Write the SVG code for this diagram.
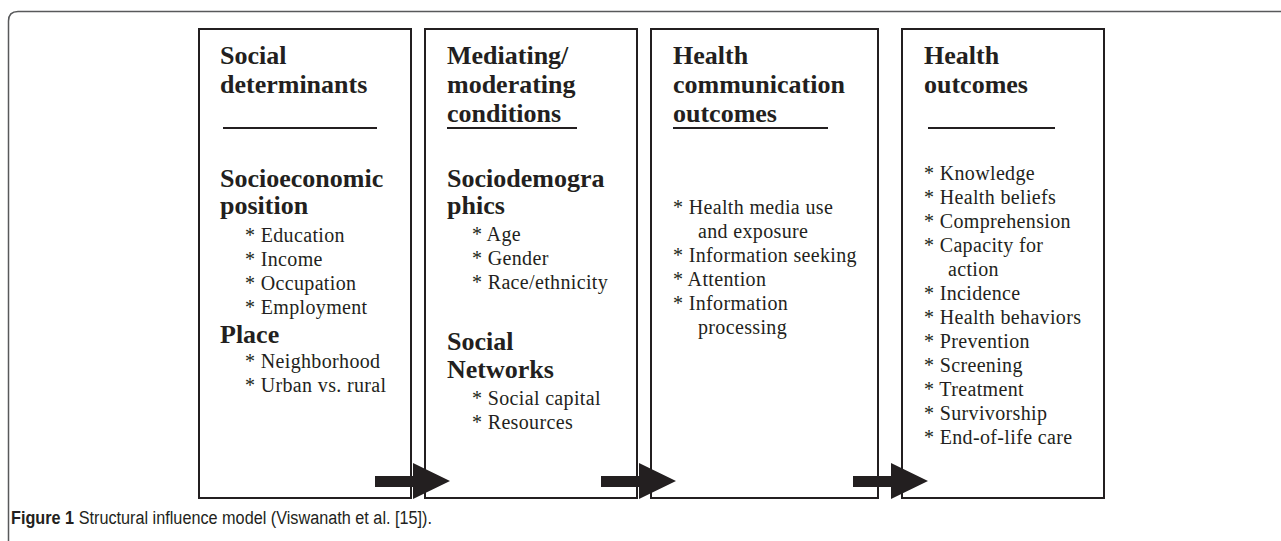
<svg xmlns="http://www.w3.org/2000/svg" width="1281" height="541" viewBox="0 0 1281 541">
<style>
.box{fill:#fff;stroke:#231f20;stroke-width:2}
.t{font-family:"Liberation Serif","Times New Roman",serif;font-weight:bold;font-size:26px;fill:#231f20}
.i{font-family:"Liberation Serif","Times New Roman",serif;font-size:20px;letter-spacing:0.35px;fill:#231f20}
.rule{stroke:#231f20;stroke-width:2}
.arrow{fill:#231f20}
.cap{font-family:"Liberation Sans",Arial,sans-serif;font-size:18px;fill:#231f20}
</style>
<rect width="1281" height="541" fill="#fff"/>
<path d="M8.5 541 V21 Q8.5 11.5 18 11.5 H1281" fill="none" stroke="#58595b" stroke-width="1.5"/>

<g id="social-determinants">
<rect class="box" x="199" y="29" width="212" height="469"/>
<text class="t" x="220" y="64">Social</text>
<text class="t" x="220" y="93">determinants</text>
<line class="rule" x1="223" y1="128" x2="377" y2="128"/>
<text class="t" x="220" y="187">Socioeconomic</text>
<text class="t" x="220" y="214">position</text>
<text class="i" x="245" y="242">* Education</text>
<text class="i" x="245" y="266">* Income</text>
<text class="i" x="245" y="290">* Occupation</text>
<text class="i" x="245" y="314">* Employment</text>
<text class="t" x="220" y="343">Place</text>
<text class="i" x="245" y="368">* Neighborhood</text>
<text class="i" x="245" y="392">* Urban vs. rural</text>
</g>

<g id="mediating-conditions">
<rect class="box" x="425" y="29" width="212" height="469"/>
<text class="t" x="447" y="64">Mediating/</text>
<text class="t" x="447" y="93">moderating</text>
<text class="t" x="447" y="122">conditions</text>
<line class="rule" x1="447" y1="128" x2="577" y2="128"/>
<text class="t" x="447" y="187">Sociodemogra</text>
<text class="t" x="447" y="214">phics</text>
<text class="i" x="472" y="241">* Age</text>
<text class="i" x="472" y="265">* Gender</text>
<text class="i" x="472" y="289">* Race/ethnicity</text>
<text class="t" x="447" y="350">Social</text>
<text class="t" x="447" y="378">Networks</text>
<text class="i" x="472" y="405">* Social capital</text>
<text class="i" x="472" y="429">* Resources</text>
</g>

<g id="health-communication-outcomes">
<rect class="box" x="651" y="29" width="227" height="469"/>
<text class="t" x="673" y="64">Health</text>
<text class="t" x="673" y="93">communication</text>
<text class="t" x="673" y="122">outcomes</text>
<line class="rule" x1="673" y1="128" x2="828" y2="128"/>
<text class="i" x="673" y="214">* Health media use</text>
<text class="i" x="698" y="238">and exposure</text>
<text class="i" x="673" y="262">* Information seeking</text>
<text class="i" x="673" y="286">* Attention</text>
<text class="i" x="673" y="310">* Information</text>
<text class="i" x="698" y="334">processing</text>
</g>

<g id="health-outcomes">
<rect class="box" x="902" y="29" width="202" height="469"/>
<text class="t" x="924" y="64">Health</text>
<text class="t" x="924" y="93">outcomes</text>
<line class="rule" x1="928" y1="128" x2="1055" y2="128"/>
<text class="i" x="924" y="180">* Knowledge</text>
<text class="i" x="924" y="204">* Health beliefs</text>
<text class="i" x="924" y="228">* Comprehension</text>
<text class="i" x="924" y="252">* Capacity for</text>
<text class="i" x="948" y="276">action</text>
<text class="i" x="924" y="300">* Incidence</text>
<text class="i" x="924" y="324">* Health behaviors</text>
<text class="i" x="924" y="348">* Prevention</text>
<text class="i" x="924" y="372">* Screening</text>
<text class="i" x="924" y="396">* Treatment</text>
<text class="i" x="924" y="420">* Survivorship</text>
<text class="i" x="924" y="444">* End-of-life care</text>
</g>

<g id="connectors">
<path class="arrow" d="M375 476 H413 V463 L450 481 L413 499 V487 H375 Z"/>
<path class="arrow" d="M601 476 H639 V463 L676 481 L639 499 V487 H601 Z"/>
<path class="arrow" d="M853 476 H891 V463 L928 481 L891 499 V487 H853 Z"/>
</g>

<text class="cap" x="11" y="524" textLength="421" lengthAdjust="spacingAndGlyphs"><tspan font-weight="bold">Figure 1</tspan> Structural influence model (Viswanath et al. [15]).</text>
</svg>
